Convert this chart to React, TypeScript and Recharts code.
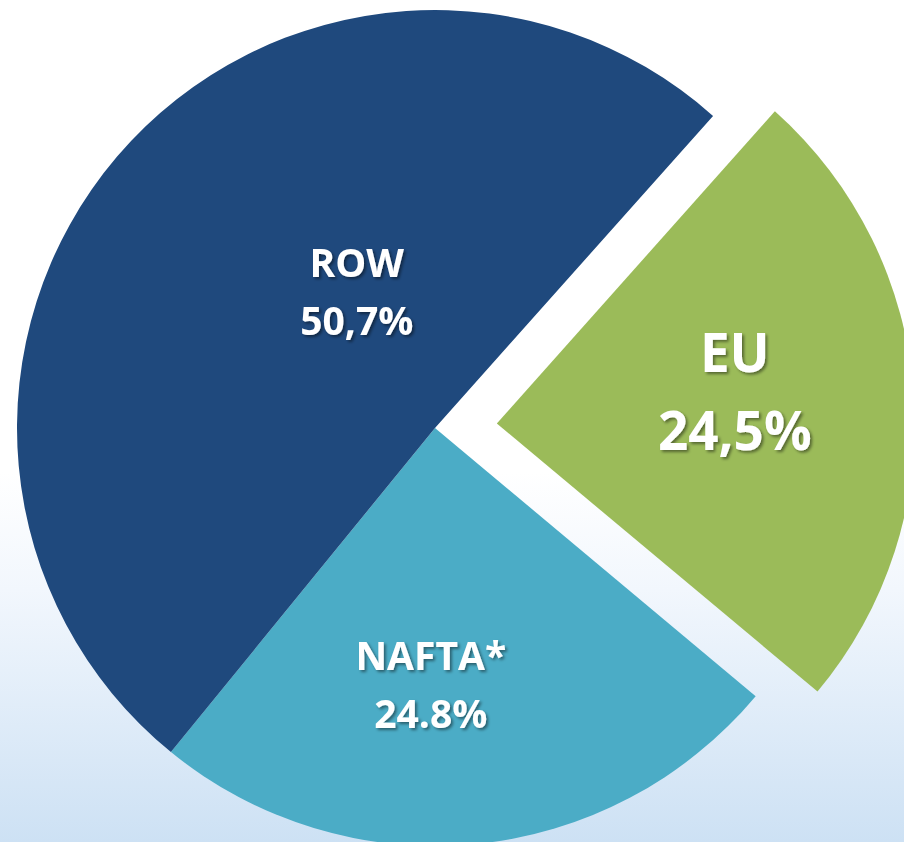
import React from 'react';
import { PieChart, Pie, Cell } from 'recharts';

// regions, clockwise from the exploded EU slice
const regions = ['EU', 'NAFTA*', 'ROW'];
const shares = [24.5, 24.8, 50.7];
const shareLabels = ['24,5%', '24.8%', '50,7%'];
const colors = ['#9bbb59', '#4bacc6', '#1f497d'];

const pieData = regions.map((name, i) => ({ name, value: shares[i], text: shareLabels[i] }));

const W = 904;
const H = 842;
const CX = 435;
const CY = 428;
const R = 418;
const START = 48.3;
const EXPLODED = 'EU';
const EXPLODE_DIST = 62;

// label placement: radius fraction + angle nudge from the slice mid angle
const labelPlace: Record<string, { rf: number; da: number; size: number; gap: number }> = {
  EU: { rf: 0.574, da: 3.2, size: 53, gap: 78 },
  'NAFTA*': { rf: 0.615, da: -6.4, size: 39, gap: 58 },
  ROW: { rf: 0.376, da: -19.7, size: 39, gap: 58 },
};

const RAD = Math.PI / 180;

// mid angle of the exploded slice, to shift the second pie along it
const explodeIdx = regions.indexOf(EXPLODED);
const before = shares.slice(0, explodeIdx).reduce((a, b) => a + b, 0);
const total = shares.reduce((a, b) => a + b, 0);
const explodeMid = START - ((before + shares[explodeIdx] / 2) / total) * 360;
const offX = Math.cos(explodeMid * RAD) * EXPLODE_DIST;
const offY = -Math.sin(explodeMid * RAD) * EXPLODE_DIST;

const makeLabel = (showExploded: boolean) => (props: any) => {
  const { cx, cy, midAngle, outerRadius, payload, name } = props;
  const key = payload?.name ?? name;
  if ((key === EXPLODED) !== showExploded) return null;
  const p = labelPlace[key];
  const a = (midAngle + p.da) * RAD;
  const x = cx + Math.cos(a) * outerRadius * p.rf;
  const y = cy - Math.sin(a) * outerRadius * p.rf;
  const capHalf = p.size * 0.714 / 2;
  return (
    <g filter="url(#txtShadow)">
      <text
        x={x}
        y={y - p.gap / 2 + capHalf}
        textAnchor="middle"
        fill="#ffffff"
        fontFamily="'Open Sans', sans-serif"
        fontWeight={700}
        fontSize={p.size}
      >
        {key}
      </text>
      <text
        x={x}
        y={y + p.gap / 2 + capHalf}
        textAnchor="middle"
        fill="#ffffff"
        fontFamily="'Open Sans', sans-serif"
        fontWeight={700}
        fontSize={p.size}
      >
        {payload?.text}
      </text>
    </g>
  );
};

const App: React.FC = () => {
  return (
    <div
      style={{
        position: 'absolute',
        left: 0,
        top: 0,
        width: W,
        height: H,
        overflow: 'hidden',
        background: 'linear-gradient(180deg, #ffffff 0%, #ffffff 56%, #f2f7fd 70%, #cde1f4 100%)',
      }}
    >
      <PieChart width={W} height={H} margin={{ top: 0, right: 0, bottom: 0, left: 0 }}>
        <defs>
          <filter id="txtShadow" x="-20%" y="-20%" width="140%" height="140%">
            <feDropShadow dx="2" dy="2" stdDeviation="1.5" floodColor="#000000" floodOpacity="0.45" />
          </filter>
        </defs>
        <Pie
          data={pieData}
          dataKey="value"
          nameKey="name"
          cx={CX}
          cy={CY}
          innerRadius={0}
          outerRadius={R}
          startAngle={START}
          endAngle={START - 360}
          stroke="none"
          labelLine={false}
          label={makeLabel(false)}
          isAnimationActive={false}
        >
          {pieData.map((d, i) => (
            <Cell key={d.name} fill={d.name === EXPLODED ? 'transparent' : colors[i]} stroke="none" />
          ))}
        </Pie>
        <Pie
          data={pieData}
          dataKey="value"
          nameKey="name"
          cx={CX + offX}
          cy={CY + offY}
          innerRadius={0}
          outerRadius={R}
          startAngle={START}
          endAngle={START - 360}
          stroke="none"
          labelLine={false}
          label={makeLabel(true)}
          isAnimationActive={false}
        >
          {pieData.map((d, i) => (
            <Cell key={d.name} fill={d.name === EXPLODED ? colors[i] : 'transparent'} stroke="none" />
          ))}
        </Pie>
      </PieChart>
    </div>
  );
};

export default App;
